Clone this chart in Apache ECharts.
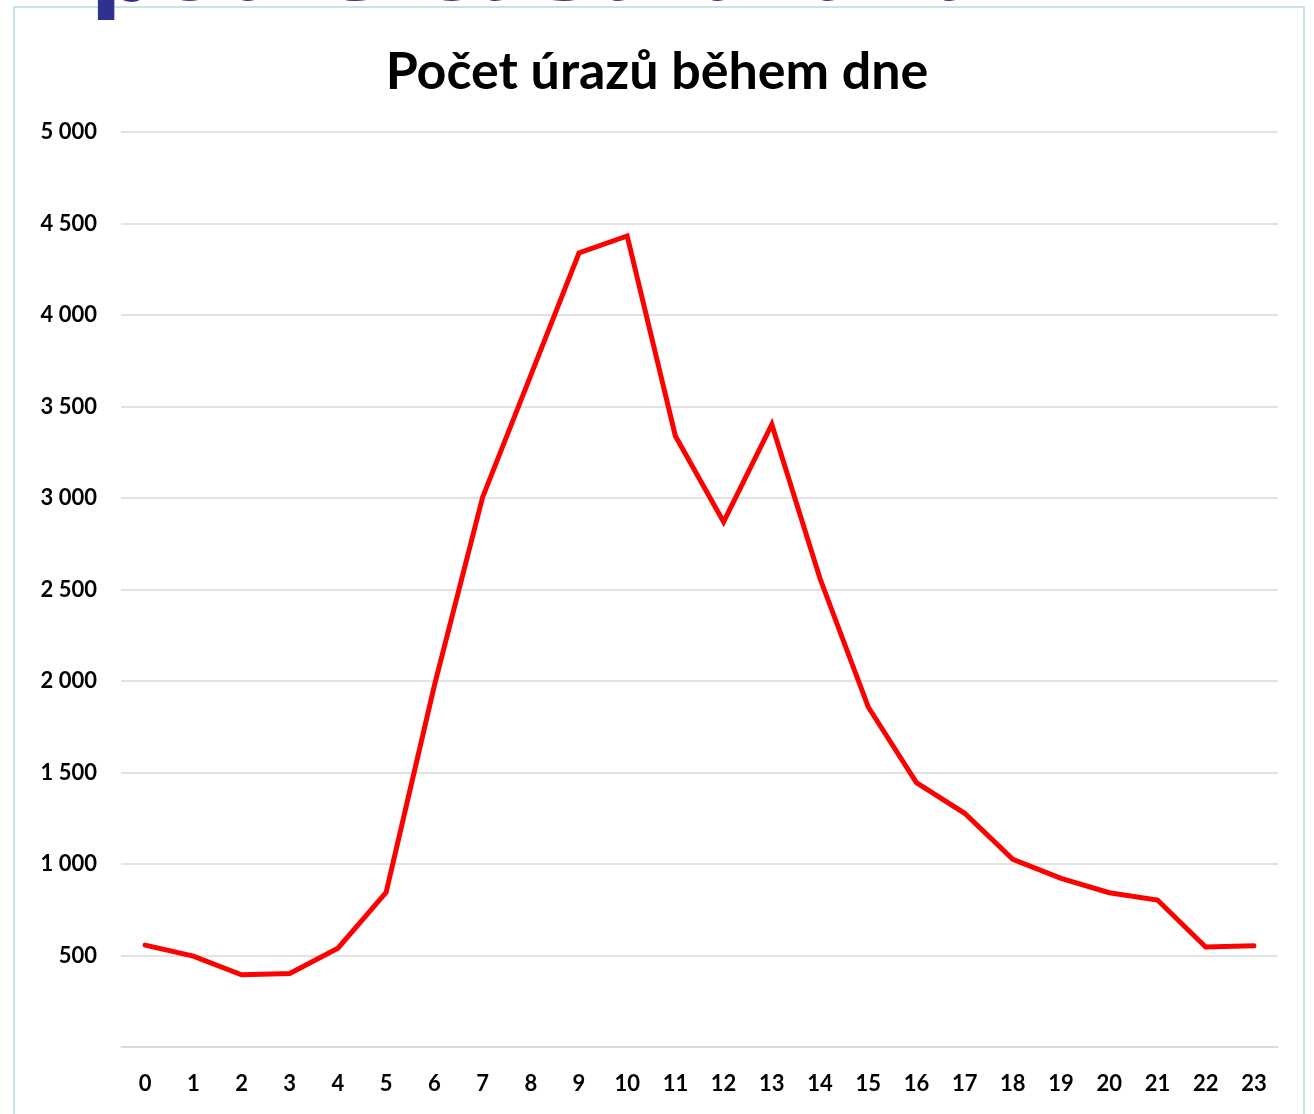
<!DOCTYPE html>
<html>
<head>
<meta charset="utf-8">
<title>Počet úrazů během dne</title>
<script src="https://cdn.jsdelivr.net/npm/echarts@6/dist/echarts.min.js"></script>
<style>
  html, body { margin: 0; padding: 0; background: #fff; }
  #main { width: 1314px; height: 1114px; }
</style>
</head>
<body>
<div id="main"></div>
<script>
// hodiny dne
var hours = ['0', '1', '2', '3', '4', '5', '6', '7', '8', '9', '10', '11',
  '12', '13', '14', '15', '16', '17', '18', '19', '20', '21', '22', '23'];
// počet úrazů
var injuries = [557, 497, 395, 402, 540, 845, 1975, 3003, 3670, 4339, 4432, 3339,
  2869, 3402, 2560, 1858, 1445, 1277, 1025, 922, 843, 803, 546, 553];

var yMin = 0, yMax = 5000, yStep = 500;

var myChart = echarts.init(document.getElementById('main'));
var font = 'Lato, "Noto Sans", sans-serif';

var option = {
  backgroundColor: '#ffffff',
  animation: false,
  graphic: [
    // rámeček snímku
    {
      type: 'rect',
      shape: { x: 14, y: 7, width: 1290, height: 1120 },
      style: { fill: 'none', stroke: '#c6e4ea', lineWidth: 2 },
      z: 0
    },
    // useknutý nadpis snímku nahoře
    {
      type: 'text',
      x: 90,
      y: 23,
      style: {
        text: 'podle času úrazu',
        font: 'bold 94px "DejaVu Sans", sans-serif',
        fill: '#2e3192',
        verticalAlign: 'bottom'
      },
      z: 1
    }
  ],
  title: {
    text: 'Počet úrazů během dne',
    left: 'center',
    top: 41,
    textStyle: {
      fontFamily: font,
      fontSize: 52,
      fontWeight: 'bold',
      color: '#000'
    }
  },
  grid: {
    left: 121,
    right: 36,
    top: 132,
    bottom: 67
  },
  xAxis: {
    type: 'category',
    data: hours,
    boundaryGap: true,
    axisLine: { show: true, lineStyle: { color: '#d9d9d9', width: 1.5 } },
    axisTick: { show: false },
    axisLabel: {
      margin: 26,
      fontFamily: font,
      fontSize: 22,
      fontWeight: 'bold',
      color: '#000'
    },
    splitLine: { show: false }
  },
  yAxis: {
    type: 'value',
    min: yMin,
    max: yMax,
    interval: yStep,
    axisLine: { show: false },
    axisTick: { show: false },
    axisLabel: {
      margin: 24,
      fontFamily: font,
      fontSize: 22,
      fontWeight: 'bold',
      color: '#000',
      formatter: function (v) {
        if (v === 0) return '';
        return String(v).replace(/\B(?=(\d{3})+(?!\d))/g, ' ');
      }
    },
    splitLine: { lineStyle: { color: '#d9d9d9', width: 1.5 } }
  },
  series: [
    {
      name: 'Počet úrazů',
      type: 'line',
      data: injuries,
      symbol: 'none',
      lineStyle: { color: '#ff0000', width: 5, cap: 'round', join: 'miter' },
      itemStyle: { color: '#ff0000' }
    }
  ]
};

myChart.setOption(option);
</script>
</body>
</html>
